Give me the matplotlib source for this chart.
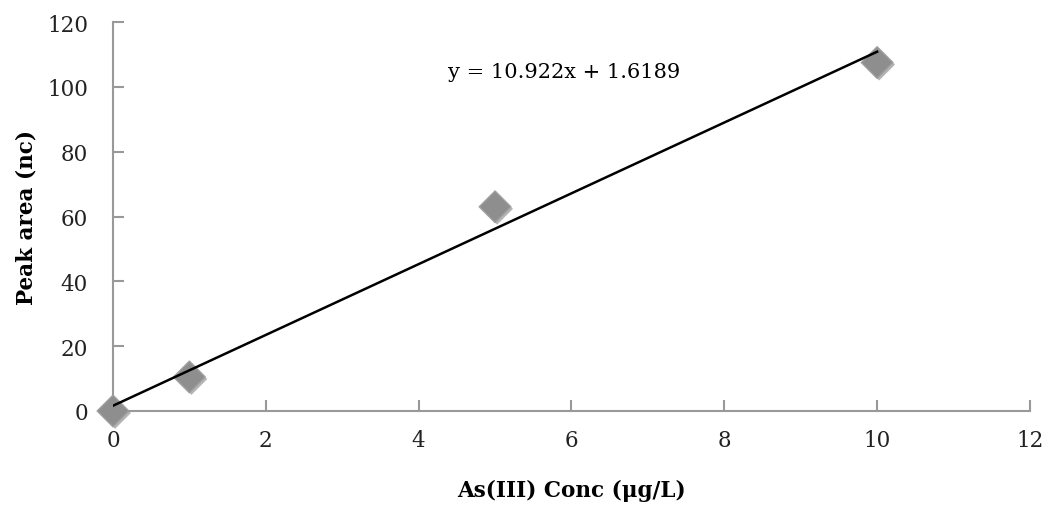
import matplotlib
matplotlib.use("Agg")
import matplotlib.pyplot as plt
import numpy as np
import matplotlib.patheffects as pe

conc = [0, 1, 5, 10]
area = [0, 10.5, 63, 107.5]
slope = 10.922
intercept = 1.6189
xticks = [0, 2, 4, 6, 8, 10, 12]
yticks = [0, 20, 40, 60, 80, 100, 120]

plt.rcParams['font.family'] = ['DejaVu Serif']

fig = plt.figure(figsize=(10.5, 5.06), dpi=100)
ax = fig.add_axes([0.1076, 0.1858, 0.8733, 0.7687])

fx = np.array([0, 10])
ax.plot(fx, slope * fx + intercept, color='black', lw=1.8, zorder=4)
ax.scatter(conc, area, marker='D', s=260, facecolor='#8e8e8e', edgecolor='#a0a0a0',
           linewidths=1, zorder=3, clip_on=False,
           path_effects=[pe.SimplePatchShadow(offset=(1.5, -1.5), alpha=0.35), pe.Normal()])

ax.set_xlim(0, 12)
ax.set_ylim(0, 120)
ax.set_xticks(xticks)
ax.set_yticks(yticks)
for s in ['top', 'right']:
    ax.spines[s].set_visible(False)
for s in ['left', 'bottom']:
    ax.spines[s].set_color('#999999')
    ax.spines[s].set_linewidth(1.5)
ax.tick_params(direction='in', length=8, width=1.5, color='#999999', labelsize=15.5, colors='#222222')
ax.tick_params(axis='x', pad=13)
ax.tick_params(axis='y', pad=18)
for lab in ax.get_xticklabels() + ax.get_yticklabels():
    lab.set_color('#222222')
ax.set_xlabel('As(III) Conc (μg/L)', fontsize=15.5, fontweight='bold', labelpad=20)
ax.set_ylabel('Peak area (nc)', fontsize=15.5, fontweight='bold', labelpad=7)
ax.text(4.38, 104.6, 'y = 10.922x + 1.6189', fontsize=15, va='center', ha='left')
for sp in ax.spines.values():
    sp.set_zorder(1)

fig.savefig('out.png', dpi=100)
